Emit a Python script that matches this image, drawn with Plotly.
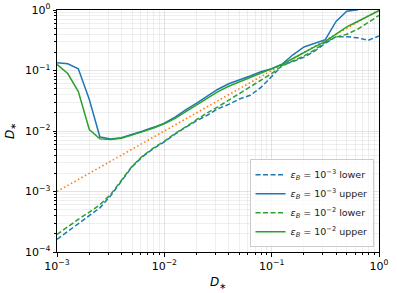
import plotly.graph_objects as go

# D_* grid (log spacing of 0.1 decade)
d_star = [0.001, 0.00126, 0.00158, 0.002, 0.00251, 0.00316, 0.00398, 0.00501, 0.00631, 0.00794,
          0.01, 0.0126, 0.0158, 0.02, 0.0251, 0.0316, 0.0398, 0.0501, 0.0631, 0.0794,
          0.1, 0.126, 0.158, 0.2, 0.251, 0.316, 0.398, 0.501, 0.631, 0.794, 1.0]

eb3_lower = [1.62e-4, 2.19e-4, 2.95e-4, 3.98e-4, 5.37e-4, 8.51e-4, 1.51e-3, 2.57e-3, 3.80e-3, 5.13e-3,
             6.61e-3, 8.91e-3, 0.0115, 0.0148, 0.0182, 0.0234, 0.0275, 0.0339, 0.0389, 0.0525,
             0.0794, 0.123, 0.141, 0.166, 0.209, 0.282, 0.363, 0.363, 0.347, 0.316, 0.372]

eb3_upper = [0.134, 0.129, 0.107, 0.0331, 0.00794, 0.00741, 0.00776, 0.00871, 0.0100, 0.0115,
             0.0135, 0.0170, 0.0224, 0.0288, 0.0380, 0.0490, 0.0603, 0.0692, 0.0813, 0.0955,
             0.107, 0.129, 0.182, 0.245, 0.282, 0.324, 0.646, 0.955, 1.01, 1.25, 1.4]

eb2_lower = [1.95e-4, 2.63e-4, 3.47e-4, 4.57e-4, 6.03e-4, 8.91e-4, 1.55e-3, 2.63e-3, 3.89e-3, 5.25e-3,
             6.76e-3, 9.12e-3, 0.0117, 0.0155, 0.0200, 0.0251, 0.0324, 0.0407, 0.0525, 0.0692,
             0.0891, 0.120, 0.145, 0.174, 0.219, 0.295, 0.355, 0.398, 0.479, 0.617, 0.813]

eb2_upper = [0.126, 0.0891, 0.0447, 0.0106, 0.00741, 0.00724, 0.00759, 0.00851, 0.00977, 0.0112,
             0.0132, 0.0162, 0.0209, 0.0269, 0.0347, 0.0447, 0.0550, 0.0646, 0.0776, 0.0912,
             0.107, 0.126, 0.158, 0.200, 0.245, 0.302, 0.398, 0.525, 0.646, 0.794, 0.977]

ref_x = [0.001, 1.0]
ref_y = [0.001, 1.0]

decades = [1e-4, 1e-3, 1e-2, 1e-1, 1.0]
x_tick_vals = [1e-3, 1e-2, 1e-1, 1.0]
x_tick_text = ["10<sup>−3</sup>", "10<sup>−2</sup>", "10<sup>−1</sup>", "10<sup>0</sup>"]
y_tick_vals = [1e-4, 1e-3, 1e-2, 1e-1, 1.0]
y_tick_text = ["10<sup>−4</sup>", "10<sup>−3</sup>", "10<sup>−2</sup>", "10<sup>−1</sup>", "10<sup>0</sup>"]

minor_vals = [m * d for d in decades[:-1] for m in range(2, 10)]

BLUE = "#1f77b4"
ORANGE = "#ff7f0e"
GREEN = "#2ca02c"
DASH = "5px,2.5px"
DOT = "1.5px,2.5px"

fig = go.Figure()
fig.add_trace(go.Scatter(x=ref_x, y=ref_y, mode="lines", showlegend=False,
                         line=dict(color=ORANGE, width=1.6, dash=DOT)))
fig.add_trace(go.Scatter(x=d_star, y=eb3_lower, mode="lines",
                         name="<i>ε</i><sub><i>B</i></sub> = 10<sup>−3</sup> lower",
                         line=dict(color=BLUE, width=1.5, dash=DASH)))
fig.add_trace(go.Scatter(x=d_star, y=eb3_upper, mode="lines",
                         name="<i>ε</i><sub><i>B</i></sub> = 10<sup>−3</sup> upper",
                         line=dict(color=BLUE, width=1.5)))
fig.add_trace(go.Scatter(x=d_star, y=eb2_lower, mode="lines",
                         name="<i>ε</i><sub><i>B</i></sub> = 10<sup>−2</sup> lower",
                         line=dict(color=GREEN, width=1.5, dash=DASH)))
fig.add_trace(go.Scatter(x=d_star, y=eb2_upper, mode="lines",
                         name="<i>ε</i><sub><i>B</i></sub> = 10<sup>−2</sup> upper",
                         line=dict(color=GREEN, width=1.5)))

axis_common = dict(
    type="log", automargin=False,
    showline=True, linecolor="black", linewidth=1, mirror=True,
    ticks="outside", ticklen=3.5, tickwidth=1, tickcolor="black",
    showgrid=True, gridcolor="rgba(176,176,176,0.35)", gridwidth=1,
    zeroline=False,
    tickfont=dict(family="DejaVu Sans", size=11, color="black"),
    minor=dict(tickvals=minor_vals, ticks="outside", ticklen=2, tickcolor="black",
               showgrid=True, gridcolor="rgba(176,176,176,0.25)", gridwidth=0.8),
)

fig.update_xaxes(**axis_common, range=[-3, 0], tickmode="array",
                 tickvals=x_tick_vals, ticktext=x_tick_text)
fig.update_yaxes(**axis_common, range=[-4, 0], tickmode="array",
                 tickvals=y_tick_vals, ticktext=y_tick_text)

fig.add_annotation(text="<i>D</i><sub>∗</sub>", xref="paper", yref="paper",
                   x=0.5, y=-0.085, xanchor="center", yanchor="top", showarrow=False,
                   font=dict(family="DejaVu Sans", size=12, color="black"))
fig.add_annotation(text="<i>D</i><sub>∗</sub>", xref="paper", yref="paper",
                   x=-0.143, y=0.5, xanchor="center", yanchor="middle", showarrow=False,
                   textangle=-90,
                   font=dict(family="DejaVu Sans", size=12, color="black"))

fig.update_layout(
    width=397, height=293,
    margin=dict(l=57, r=18, t=10, b=41),
    paper_bgcolor="white", plot_bgcolor="white",
    font=dict(family="DejaVu Sans", size=11, color="black"),
    hovermode=False,
    legend=dict(x=0.983, y=0.02, xanchor="right", yanchor="bottom",
                bgcolor="rgba(255,255,255,0.8)", bordercolor="#cccccc", borderwidth=1,
                font=dict(family="DejaVu Sans", size=9.5, color="#222222"),
                tracegroupgap=0, itemwidth=30),
)

fig.write_html("out.html",
               config={"displayModeBar": False, "staticPlot": True},
               post_script="document.body.style.margin='0';document.body.style.overflow='hidden';")
